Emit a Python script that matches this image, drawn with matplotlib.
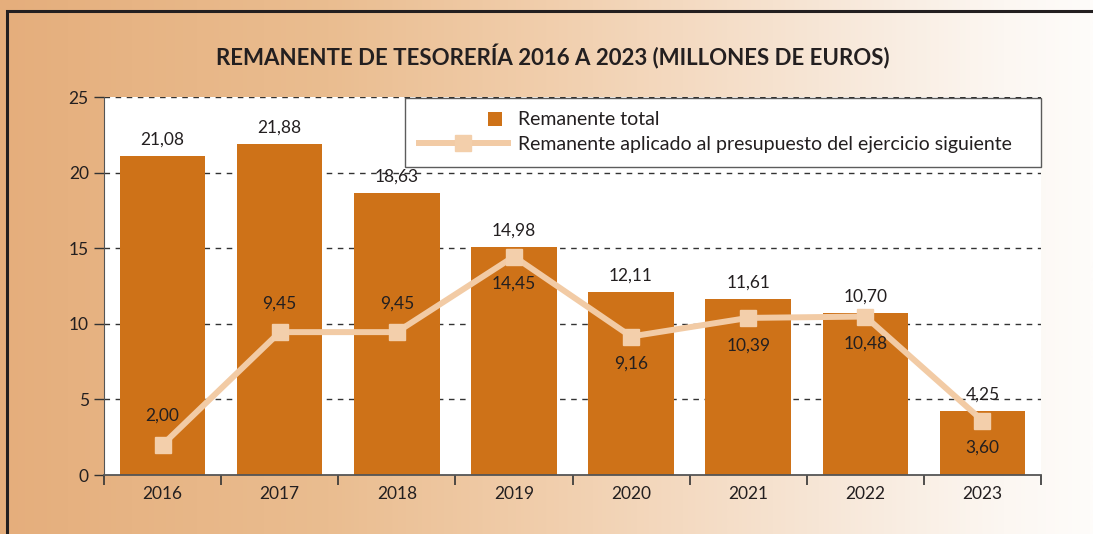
import numpy as np
import matplotlib.pyplot as plt
from matplotlib.colors import LinearSegmentedColormap
from matplotlib.patches import Rectangle
from matplotlib.legend_handler import HandlerPatch

plt.rcParams['font.family'] = ['Lato', 'DejaVu Sans']

years = ['2016', '2017', '2018', '2019', '2020', '2021', '2022', '2023']
remanente_total = [21.08, 21.88, 18.63, 15.08, 12.11, 11.61, 10.70, 4.25]
total_labels = ['21,08', '21,88', '18,63', '14,98', '12,11', '11,61', '10,70', '4,25']
remanente_aplicado = [2.00, 9.45, 9.45, 14.45, 9.16, 10.39, 10.48, 3.60]
aplicado_labels = ['2,00', '9,45', '9,45', '14,45', '9,16', '10,39', '10,48', '3,60']
aplicado_below = [False, False, False, True, True, True, True, True]

bar_color = '#CE7218'
line_color = '#F2CBA5'
text_color = '#231F20'


class SmallSquare(HandlerPatch):
    # legend key for the bars: a small square at the right end of the handle
    def create_artists(self, legend, orig_handle, xdescent, ydescent,
                       width, height, fontsize, trans):
        s = fontsize * 0.72
        p = Rectangle((width - s - xdescent - 4, (height - s) / 2 - ydescent), s, s,
                      facecolor=orig_handle.get_facecolor(), edgecolor='none',
                      transform=trans)
        return [p]


fig = plt.figure(figsize=(10.93, 5.34), dpi=100)

# gradient background
bg = fig.add_axes([0, 0, 1, 1], zorder=-10)
cmap = LinearSegmentedColormap.from_list(
    'bg', [(0, '#E5AE7C'), (0.3, '#EABD90'), (0.5, '#F1CEAC'),
           (0.75, '#F7E6D6'), (0.92, '#FCF7F2'), (1, '#FEFCFA')])
bg.imshow(np.linspace(0, 1, 512)[None, :], aspect='auto', cmap=cmap,
          extent=[0, 1, 0, 1])
bg.set_xlim(0, 1)
bg.set_ylim(0, 1)
bg.axis('off')
fig.patches.append(Rectangle((6.5 / 1093, -0.05), 1.2, 1 - 11 / 534 + 0.05,
                             transform=fig.transFigure, fill=False,
                             edgecolor='#231F20', linewidth=2.2, zorder=5))

fig.text(0.506, 1 - 57 / 534, 'REMANENTE DE TESORERÍA 2016 A 2023 (MILLONES DE EUROS)',
         ha='center', va='center', fontsize=16, fontweight='bold', color=text_color)

ax = fig.add_axes([104 / 1093, 1 - 475 / 534, (1041 - 104) / 1093, (475 - 97) / 534])
ax.set_facecolor('white')
x = np.arange(len(years))

for v in [5, 10, 15, 20, 25]:
    ax.axhline(v, color='#333333', lw=1.0, ls=(0, (4, 4)), zorder=1)

bars = ax.bar(x, remanente_total, width=0.73, color=bar_color, zorder=2)
line, = ax.plot(x, remanente_aplicado, color=line_color, lw=4.3, marker='s',
                markersize=12, markerfacecolor='#F3CFAB', markeredgecolor='#F3CFAB',
                zorder=3)

for i in range(len(years)):
    ax.annotate(total_labels[i], (x[i], remanente_total[i]), xytext=(0, 6),
                textcoords='offset points', ha='center', va='bottom',
                fontsize=12.5, color=text_color, zorder=4)
    if aplicado_below[i]:
        ax.annotate(aplicado_labels[i], (x[i], remanente_aplicado[i]), xytext=(0, -14),
                    textcoords='offset points', ha='center', va='top',
                    fontsize=12.5, color=text_color, zorder=4)
    else:
        ax.annotate(aplicado_labels[i], (x[i], remanente_aplicado[i]), xytext=(0, 15),
                    textcoords='offset points', ha='center', va='bottom',
                    fontsize=12.5, color=text_color, zorder=4)

ax.set_xlim(-0.5, len(years) - 0.5)
ax.set_ylim(0, 25)
ax.set_yticks([0, 5, 10, 15, 20, 25])
ax.set_yticklabels(['0', '5', '10', '15', '20', '25'])
ax.set_xticks(x)
ax.set_xticklabels(years)
ax.set_xticks(np.arange(-0.5, len(years)), minor=True)
ax.tick_params(axis='x', which='major', length=0, pad=8, labelsize=12.5,
               colors=text_color)
ax.tick_params(axis='x', which='minor', length=7, width=1.2, color='#333333')
ax.tick_params(axis='y', length=7, width=1.0, color='#333333', pad=4,
               labelsize=12.5, labelcolor=text_color)
for s in ['top', 'right']:
    ax.spines[s].set_visible(False)
ax.spines['left'].set_color('#555555')
ax.spines['bottom'].set_color('#555555')
ax.spines['bottom'].set_linewidth(1.3)

# legend box spans from x=405px to the right edge of the plot
bar_key = Rectangle((0, 0), 1, 1, facecolor=bar_color)
x0 = (405 - 104) / (1041 - 104)
leg = ax.legend([bar_key, line],
                ['Remanente total',
                 'Remanente aplicado al presupuesto del ejercicio siguiente'],
                handler_map={Rectangle: SmallSquare()},
                loc='upper left', bbox_to_anchor=(x0, 1.0 - 0.002, 1 - x0, 0.0),
                mode='expand', fontsize=14, frameon=True, fancybox=False,
                edgecolor='#333333', borderpad=0.7, handlelength=4.6,
                handletextpad=0.5, labelspacing=0.4, borderaxespad=0.0)
leg.get_frame().set_linewidth(1.0)
for t in leg.get_texts():
    t.set_color(text_color)

fig.savefig('out.png', dpi=100)
